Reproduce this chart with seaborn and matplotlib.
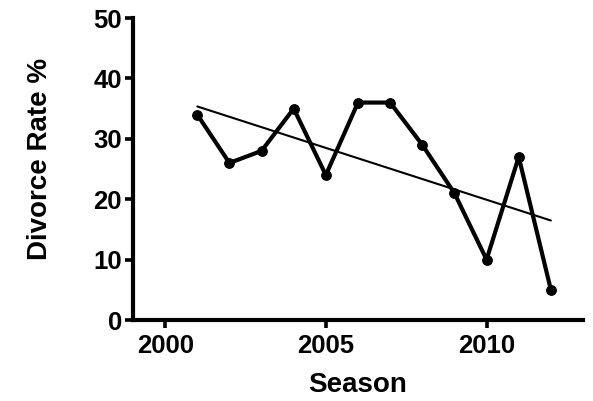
import numpy as np
import pandas as pd
import matplotlib
matplotlib.use("Agg")
import matplotlib.pyplot as plt
import seaborn as sns

seasons = [2001, 2002, 2003, 2004, 2005, 2006, 2007, 2008, 2009, 2010, 2011, 2012]
divorce_rate = [34, 26, 28, 35, 24, 36, 36, 29, 21, 10, 27, 5]
x_ticks = [2000, 2005, 2010]
y_ticks = [0, 10, 20, 30, 40, 50]

df = pd.DataFrame({"Season": seasons, "Divorce Rate %": divorce_rate})

sns.set_style("ticks")
plt.rcParams["font.family"] = ["Liberation Sans", "DejaVu Sans"]
plt.rcParams["font.weight"] = "bold"
plt.rcParams["text.color"] = "black"
plt.rcParams["axes.labelcolor"] = "black"
plt.rcParams["xtick.color"] = "black"
plt.rcParams["ytick.color"] = "black"
plt.rcParams["axes.edgecolor"] = "black"

fig = plt.figure(figsize=(5.93, 4.01), dpi=100)
ax = fig.add_axes([133 / 593, 81 / 401, 450 / 593, 302 / 401])

sns.lineplot(data=df, x="Season", y="Divorce Rate %", ax=ax, color="black",
             linewidth=3.0, marker="o", markersize=7, markeredgecolor="black")
sns.regplot(data=df, x="Season", y="Divorce Rate %", ax=ax, scatter=False,
            ci=None, color="black", line_kws={"linewidth": 1.5})

ax.set_xlim(1999, 2013)
ax.set_ylim(0, 50)
ax.set_xticks(x_ticks)
ax.set_yticks(y_ticks)
ax.set_xlabel("Season", fontsize=20, fontweight="bold", va="center")
ax.set_ylabel("Divorce Rate %", fontsize=20, fontweight="bold", va="center")
ax.xaxis.set_label_coords(0.5, -0.215)
ax.yaxis.set_label_coords(-0.207, 0.533)
ax.tick_params(axis="both", labelsize=18.5, width=2.6, length=6, direction="out", pad=2)
ax.tick_params(axis="x", pad=4)
for lab in ax.get_xticklabels() + ax.get_yticklabels():
    lab.set_fontweight("bold")

sns.despine(ax=ax)
for side in ["left", "bottom"]:
    ax.spines[side].set_linewidth(3.0)

fig.savefig("out.png", dpi=100)
